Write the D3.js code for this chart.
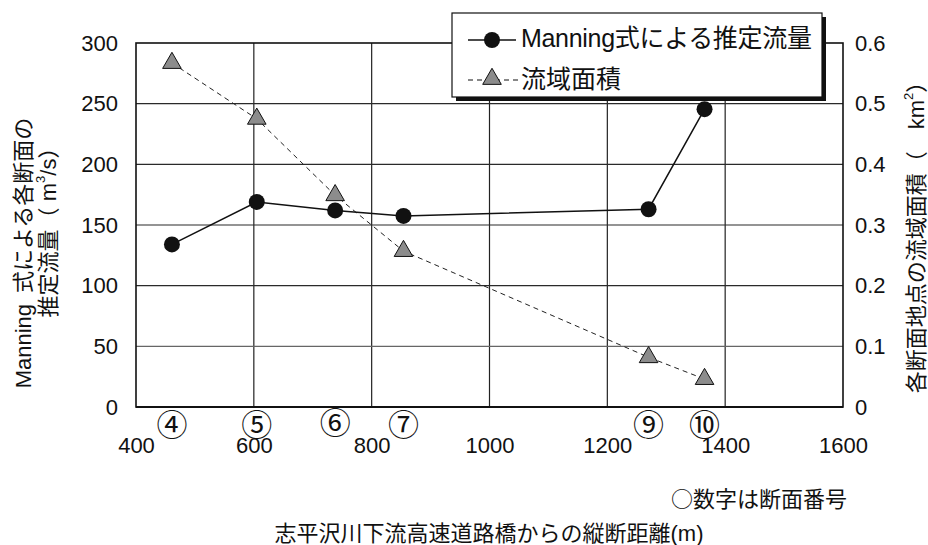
<!DOCTYPE html>
<html><head><meta charset="utf-8">
<script src="https://cdn.jsdelivr.net/npm/d3@7"></script>
<style>
html,body{margin:0;padding:0;background:#fff;}
text{font-family:"Liberation Sans","Noto Sans CJK JP",sans-serif;fill:#111;}
</style></head>
<body>
<svg id="chart" width="928" height="545"></svg>
<script>
// ---- data ----
const distances = [461, 605, 738, 854, 1270, 1365];
const sectionLabels = ["④", "⑤", "⑥", "⑦", "⑨", "⑩"];
const discharge = [134, 169, 162, 157.5, 163, 245.5];
const catchmentArea = [0.567, 0.475, 0.349, 0.257, 0.082, 0.046];
const xTicks = [400, 600, 800, 1000, 1200, 1400, 1600];
const leftTicks = [0, 50, 100, 150, 200, 250, 300];
const rightTicks = [0, 0.1, 0.2, 0.3, 0.4, 0.5, 0.6];
const seriesNames = ["Manning式による推定流量", "流域面積"];

// ---- layout ----
const svg = d3.select("#chart");
const L = 136, R = 843, T = 43, B = 407;
const x = d3.scaleLinear().domain([400, 1600]).range([L, R]);
const yL = d3.scaleLinear().domain([0, 300]).range([B, T]);
const yR = d3.scaleLinear().domain([0, 0.6]).range([B, T]);

// grid
const g = svg.append("g");
g.selectAll(".vg").data(xTicks.slice(1, -1)).join("line")
  .attr("x1", d => x(d)).attr("x2", d => x(d)).attr("y1", T).attr("y2", B)
  .attr("stroke", "#222").attr("stroke-width", 1.2);
g.selectAll(".hg").data(leftTicks.slice(1, -1)).join("line")
  .attr("x1", L).attr("x2", R).attr("y1", d => yL(d)).attr("y2", d => yL(d))
  .attr("stroke", d => d === 50 ? "#666" : "#2a2a2a").attr("stroke-width", 1.2);
// frame
g.append("rect").attr("x", L).attr("y", T).attr("width", R - L).attr("height", B - T)
  .attr("fill", "none").attr("stroke", "#111").attr("stroke-width", 1.6);
g.append("line").attr("x1", L).attr("x2", R).attr("y1", B).attr("y2", B)
  .attr("stroke", "#111").attr("stroke-width", 2.2);

// axes
const axL = svg.append("g").attr("transform", `translate(${L},0)`)
  .call(d3.axisLeft(yL).tickValues(leftTicks).tickSize(0).tickPadding(18));
const axR = svg.append("g").attr("transform", `translate(${R},0)`)
  .call(d3.axisRight(yR).tickValues(rightTicks).tickSize(0).tickPadding(12)
    .tickFormat(d => d === 0 ? "0" : d.toFixed(1)));
const axB = svg.append("g").attr("transform", `translate(0,${B})`)
  .call(d3.axisBottom(x).tickValues(xTicks).tickSize(0).tickPadding(30).tickFormat(d3.format("d")));
[axL, axR, axB].forEach(a => {
  a.select(".domain").remove();
  a.selectAll("text").attr("font-size", 22).attr("font-family", "Liberation Sans").attr("fill", "#111");
});

// section labels
svg.selectAll(".sec").data(sectionLabels).join("text")
  .attr("x", (d, i) => x(distances[i]))
  .attr("y", (d, i) => i === 2 ? 420 : 422)
  .attr("text-anchor", "middle").attr("dominant-baseline", "central")
  .attr("font-size", 31).style("font-family", '"Noto Sans CJK JP"')
  .text(d => d);

// series: area (dashed + triangles)
const pts = distances.map((d, i) => ({x: d, q: discharge[i], a: catchmentArea[i]}));
svg.append("path").datum(pts)
  .attr("d", d3.line().x(d => x(d.x)).y(d => yR(d.a)))
  .attr("fill", "none").attr("stroke", "#222").attr("stroke-width", 1).attr("stroke-dasharray", "5,4");
const tri = d3.symbol().type(d3.symbolTriangle).size(150);
svg.selectAll(".tri").data(pts).join("path")
  .attr("d", tri).attr("transform", d => `translate(${x(d.x)},${yR(d.a)})`)
  .attr("fill", "#8c8c8c").attr("stroke", "#111").attr("stroke-width", 1);

// series: discharge (solid + circles)
svg.append("path").datum(pts)
  .attr("d", d3.line().x(d => x(d.x)).y(d => yL(d.q)))
  .attr("fill", "none").attr("stroke", "#111").attr("stroke-width", 1.5);
svg.selectAll(".cir").data(pts).join("circle")
  .attr("cx", d => x(d.x)).attr("cy", d => yL(d.q)).attr("r", 8)
  .attr("fill", "#111");

// legend
const lg = svg.append("g");
lg.append("rect").attr("x", 456).attr("y", 17).attr("width", 370).attr("height", 84).attr("fill", "#111");
lg.append("rect").attr("x", 452).attr("y", 13).attr("width", 370).attr("height", 84)
  .attr("fill", "#fff").attr("stroke", "#111").attr("stroke-width", 1.2);
lg.append("line").attr("x1", 468).attr("x2", 516).attr("y1", 40).attr("y2", 40)
  .attr("stroke", "#111").attr("stroke-width", 1.5);
lg.append("circle").attr("cx", 492).attr("cy", 40).attr("r", 8).attr("fill", "#111");
lg.append("line").attr("x1", 468).attr("x2", 518).attr("y1", 80).attr("y2", 80)
  .attr("stroke", "#111").attr("stroke-width", 1.2).attr("stroke-dasharray", "5,4");
lg.append("path").attr("d", tri).attr("transform", "translate(492,79)")
  .attr("fill", "#8c8c8c").attr("stroke", "#111").attr("stroke-width", 1);
lg.selectAll(".lt").data(seriesNames).join("text")
  .attr("x", 521).attr("y", (d, i) => i === 0 ? 38 : 79)
  .attr("dominant-baseline", "central").attr("font-size", 25)
  .attr("textLength", (d, i) => i === 0 ? 291 : null)
  .text(d => d);

// axis titles
svg.append("text").attr("transform", "translate(23,253) rotate(-90)")
  .attr("text-anchor", "middle").attr("dominant-baseline", "central").attr("font-size", 22)
  .text("Manning\u2002式による各断面の");
const lt2 = svg.append("text").attr("transform", "translate(48,227) rotate(-90)")
  .attr("text-anchor", "middle").attr("dominant-baseline", "central").attr("font-size", 22);
lt2.append("tspan").text("推定流量（ m");
lt2.append("tspan").attr("font-size", 13).attr("dy", -8).text("3");
lt2.append("tspan").attr("dy", 8).text("/s）");

const rt = svg.append("text").attr("transform", "translate(916,232) rotate(-90)")
  .attr("text-anchor", "middle").attr("dominant-baseline", "central").attr("font-size", 22);
rt.append("tspan").text("各断面地点の流域面積（\u2003km");
rt.append("tspan").attr("font-size", 13).attr("dy", -8).text("2");
rt.append("tspan").attr("dy", 8).text("）");

svg.append("text").attr("x", 847).attr("y", 497).attr("text-anchor", "end")
  .attr("dominant-baseline", "central").attr("font-size", 22)
  .style("font-family", '"Noto Sans CJK JP"').text("○数字は断面番号");
svg.append("text").attr("x", 489).attr("y", 533).attr("text-anchor", "middle")
  .attr("dominant-baseline", "central").attr("font-size", 22).text("志平沢川下流高速道路橋からの縦断距離(m)");
</script>
</body></html>
